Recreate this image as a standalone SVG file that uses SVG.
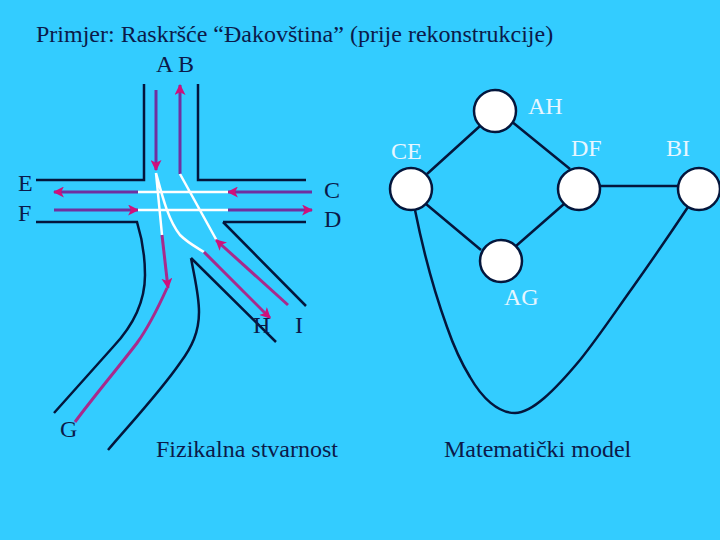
<svg xmlns="http://www.w3.org/2000/svg" width="720" height="540" viewBox="0 0 720 540">
<style>
text{font-family:"Liberation Serif","Times New Roman",serif;font-size:24px}
.d{fill:#0b1a4a}.w{fill:#e8f6ff}
.road{fill:none;stroke:#04163c;stroke-width:2.5}
.p{fill:none;stroke:#7030a0;stroke-width:3}
.m{fill:none;stroke:#a82a8c;stroke-width:3}
.y{fill:none;stroke:#fff;stroke-width:2.5}
.e{fill:none;stroke:#04163c;stroke-width:2.5}
.n{fill:#fff;stroke:#04163c;stroke-width:2.5}
</style>
<defs><marker id="a" viewBox="0 0 10 10" refX="9" refY="5" markerWidth="11" markerHeight="11" markerUnits="userSpaceOnUse" orient="auto"><path d="M0 0L10 5L0 10L2.5 5Z" fill="#d0107a"/></marker></defs>
<rect width="720" height="540" fill="#33ccff"/>
<text class="d" x="36" y="42">Primjer: Raskršće “Đakovština” (prije rekonstrukcije)</text>
<text class="d" x="156" y="72">A B</text>
<g id="roads">
<path class="road" d="M144 84V180H36M198 84V180H306M36 222H137C141 235 145 255 145 275C145 306 130 329 113 347L54 413M223 222H306M223 222L306 306M191 258C195 280 199 295 199 312C199 332 192 347 180 363C160 392 130 424 108 450M191 258L276 342"/>
</g>
<g id="arrows">
<path class="p" d="M156 90V170" marker-end="url(#a)"/>
<path class="p" d="M180 174V85" marker-end="url(#a)"/>
<path class="p" d="M138 192H54" marker-end="url(#a)"/>
<path class="p" d="M54 210H138" marker-end="url(#a)"/>
<path class="p" d="M312 192H228" marker-end="url(#a)"/>
<path class="p" d="M228 210H312" marker-end="url(#a)"/>
<path class="y" d="M138 192H228M138 210H228M156 173L162 235M156 173C162 195 168 220 180 235C188 243 196 247 204 252M180 174L217 241"/>
<path class="m" d="M162 235L168 288" marker-end="url(#a)"/>
<path class="m" d="M167 288C158 308 150 325 137 343C118 368 95 395 75 422"/>
<path class="m" d="M204 252L270 318" marker-end="url(#a)"/>
<path class="m" d="M288 305L216 240" marker-end="url(#a)"/>
</g>
<text class="d" x="18" y="191">E</text>
<text class="d" x="18" y="221">F</text>
<text class="d" x="324" y="198">C</text>
<text class="d" x="324" y="227">D</text>
<text class="d" x="253" y="333">H</text>
<text class="d" x="295" y="333">I</text>
<text class="d" x="60" y="437">G</text>
<text class="d" x="156" y="457">Fizikalna stvarnost</text>
<text class="d" x="444" y="457">Matematički model</text>
<g id="connectors">
<path class="e" d="M480 126L427 174M511 121L570 169M426 204L481 250M564 204L516 246M600 186H678M415 210C420 235 430 280 447 327C455 350 462 364 470 377C482 398 498 413 515 413C532 413 555 390 580 360C600 335 615 312 633 287C655 256 672 231 690 204"/>
</g>
<g id="AH"><circle class="n" cx="495" cy="111" r="21"/><text class="w" x="528" y="114">AH</text></g>
<g id="CE"><circle class="n" cx="411" cy="189" r="21"/><text class="w" x="391" y="159">CE</text></g>
<g id="DF"><circle class="n" cx="579" cy="189" r="21"/><text class="w" x="571" y="156">DF</text></g>
<g id="BI"><circle class="n" cx="699" cy="189" r="21"/><text class="w" x="666" y="156">BI</text></g>
<g id="AG"><circle class="n" cx="501" cy="261" r="21"/><text class="w" x="504" y="305">AG</text></g>
</svg>
